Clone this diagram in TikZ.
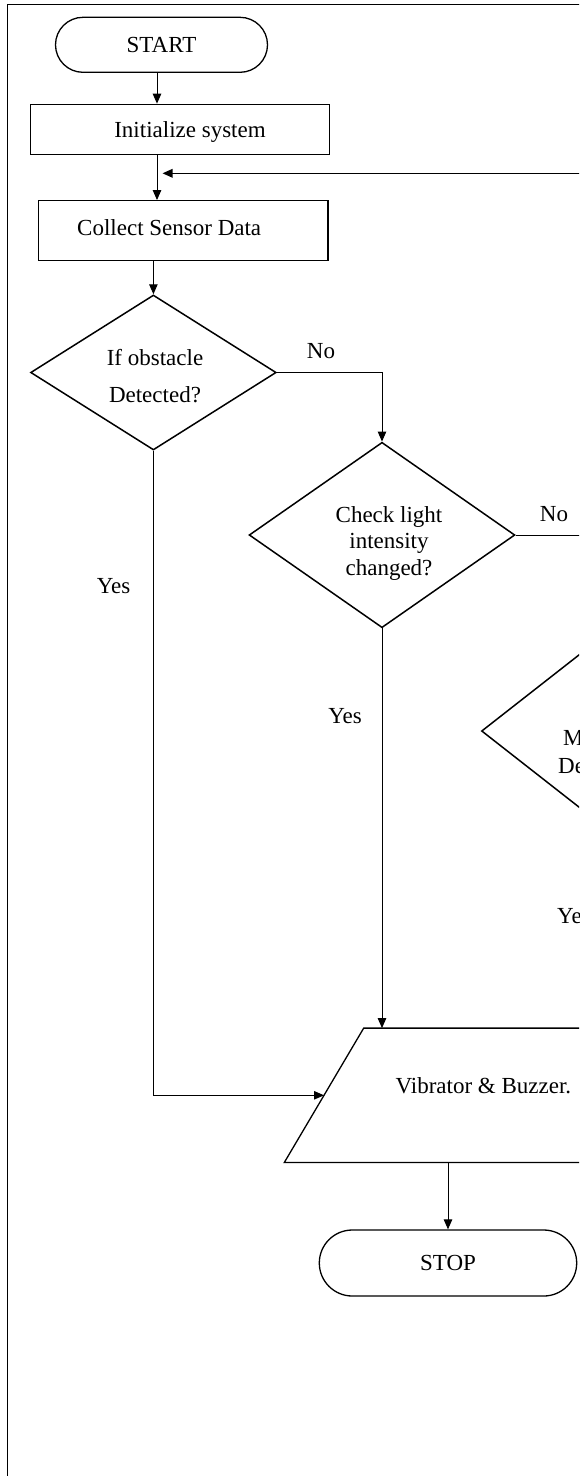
\documentclass[tikz,border=0pt]{standalone}
\usepackage{fontspec}
\setmainfont{Liberation Serif}
\usetikzlibrary{shapes.geometric,shapes.misc,arrows.meta}
\begin{document}
\begin{tikzpicture}[x=1pt,y=-1pt,
  every node/.style={font=\fontsize{23}{28}\selectfont},
  term/.style={rounded rectangle, draw, line width=1.3pt, inner sep=0pt},
  proc/.style={rectangle, draw, line width=1.3pt, inner sep=0pt},
  dec/.style={diamond, draw, line width=1.5pt, inner sep=0pt, aspect=1.5},
  iobox/.style={rectangle, inner sep=0pt},
  ioline/.style={line width=1.3pt},
  arr/.style={line width=1pt, -{Triangle[length=10pt,width=8.5pt]}},
  lbl/.style={inner sep=0pt}]
\useasboundingbox (0,0) rectangle (579,1476);
\clip (0,0) rectangle (579,1476);
% frame
\draw[line width=1pt] (7.4,1500) -- (7.4,4.5) -- (700,4.5);
% nodes
\node[term, minimum width=212pt, minimum height=55pt] (start) at (161.5,44.8) {START};
\node[proc, minimum width=299pt, minimum height=50pt,
  label={[lbl,xshift=10pt,yshift=-2.5pt]center:Initialize system}] (init) at (180,129.3) {};
\node[proc, minimum width=289.5pt, minimum height=60pt,
  label={[lbl,xshift=-14pt,yshift=3.5pt]center:Collect Sensor Data}] (collect) at (183.2,230.7) {};
\node[dec, minimum width=245.6pt, minimum height=155pt] (d1) at (153.4,372.5) {};
\node[lbl, align=center, font=\fontsize{23}{37}\selectfont] (d1t) at (155,376.5) {If obstacle\\Detected?};
\node[dec, minimum width=265.8pt, minimum height=185.4pt] (d2) at (382,535) {};
\node[lbl, align=center, font=\fontsize{23}{26.5}\selectfont] (d2t) at (389,543) {Check light\\intensity\\changed?};
\node[dec, minimum width=240pt, minimum height=188pt] (d3) at (601.5,731) {};
\node[lbl, anchor=west] (d3a) at (563,738) {M};
\node[lbl, anchor=west] (d3b) at (558,766) {De};
% parallelogram (input/output)
\node[iobox, minimum width=318.3pt, minimum height=134pt] (par) at (483.2,1095.3) {};
\draw[ioline] ([xshift=-119.5pt]par.north) -- ([xshift=198.8pt]par.north)
  -- ([xshift=119.1pt]par.south) -- ([xshift=-198.9pt]par.south) -- cycle;
\coordinate (parL) at ([xshift=-159.2pt]par.center);
\node[lbl] (part) at (483.4,1086) {Vibrator \& Buzzer.};
\node[term, minimum width=257.4pt, minimum height=66pt] (stop) at (448,1263) {STOP};
% labels
\node[lbl] (no1) at (321,351) {No};
\node[lbl] (no2) at (554,514.3) {No};
\node[lbl] (yes1) at (113.5,586) {Yes};
\node[lbl] (yes2) at (345,716) {Yes};
\node[lbl, anchor=west] (ye3) at (557,916) {Ye};
% connectors
\coordinate (a1) at (157,0);
\coordinate (loopR) at (700,173.3);
\coordinate (loopL) at (162.5,173.3);
\draw[arr] (start.south -| a1) -- (init.north -| a1);
\draw[arr] (init.south -| a1) -- (collect.north -| a1);
\draw[arr, line width=1.6pt] (loopR) -- (loopL);
\draw[arr] (collect.south -| d1.north) -- (d1.north);
\draw[arr] (d1.east) -| (d2.north);
\draw[arr] (d2.east) -| (d3.north);
\draw[arr] (d1.south) |- (parL);
\draw[arr] (d2.south) -- (d2.south |- par.north);
\draw[arr] (d3.south) -- (d3.south |- par.north);
\draw[arr] (par.south -| stop.north) -- (stop.north);
\end{tikzpicture}
\end{document}
